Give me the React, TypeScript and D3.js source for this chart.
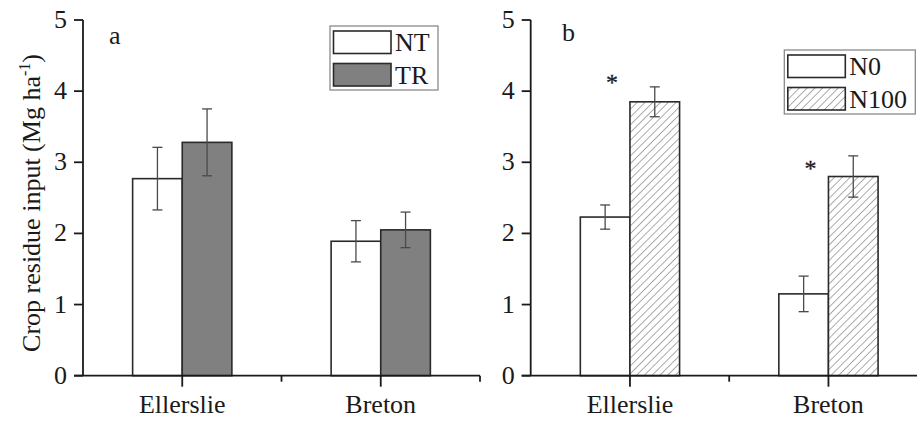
import React from "react";
import * as d3 from "d3";

// Sites and treatment series
const sites = ["Ellerslie", "Breton"];
const yTicks = [0, 1, 2, 3, 4, 5];

// Panel a: tillage
const tillageSeries = ["NT", "TR"];
const ntMean = [2.77, 1.89];
const ntErr = [0.44, 0.29];
const trMean = [3.28, 2.05];
const trErr = [0.47, 0.25];

// Panel b: nitrogen
const nSeries = ["N0", "N100"];
const n0Mean = [2.23, 1.15];
const n0Err = [0.17, 0.25];
const n100Mean = [3.85, 2.8];
const n100Err = [0.21, 0.29];
const sigLevel = [4.19, 2.97];

const W = 917;
const H = 421;
const FONT = "'Liberation Serif', 'Times New Roman', serif";
const INK = "#1a1a1a";

type PanelProps = {
  x0: number;
  x1: number;
  label: string;
  labelX: number;
  labelY: number;
  series: string[];
  means: number[][];
  errs: number[][];
  fills: string[];
  legend: { x: number; y: number; w: number; h: number };
  sig?: number[];
};

const yScale = d3.scaleLinear().domain([0, 5]).range([375.7, 20]);

function Panel(p: PanelProps) {
  const xBand = d3
    .scaleBand<string>()
    .domain(sites)
    .range([p.x0, p.x1])
    .paddingInner(0.5)
    .paddingOuter(0.25);
  const sub = d3
    .scaleBand<string>()
    .domain(p.series)
    .range([0, xBand.bandwidth()])
    .padding(0);
  const step = xBand.step();
  const y0 = yScale(0);
  const centers = sites.map((s) => xBand(s)! + xBand.bandwidth() / 2);
  const bounds = [centers[0] + step / 2, centers[1] + step / 2];

  return (
    <g>
      {/* bars */}
      {p.series.map((ser, si) =>
        sites.map((site, ci) => {
          const v = p.means[si][ci];
          const x = xBand(site)! + sub(ser)!;
          return (
            <rect
              key={ser + site}
              x={x}
              y={yScale(v)}
              width={sub.bandwidth()}
              height={y0 - yScale(v)}
              fill={p.fills[si]}
              stroke="#2a2a2a"
              strokeWidth={1.6}
            />
          );
        })
      )}
      {/* error bars */}
      {p.series.map((ser, si) =>
        sites.map((site, ci) => {
          const v = p.means[si][ci];
          const e = p.errs[si][ci];
          const cx = xBand(site)! + sub(ser)! + sub.bandwidth() / 2;
          const yt = yScale(v + e);
          const yb = yScale(v - e);
          return (
            <g key={"e" + ser + site} stroke="#4a4a4a" strokeWidth={1.3}>
              <line x1={cx} x2={cx} y1={yt} y2={yb} />
              <line x1={cx - 5} x2={cx + 5} y1={yt} y2={yt} />
              <line x1={cx - 5} x2={cx + 5} y1={yb} y2={yb} />
            </g>
          );
        })
      )}
      {/* significance marks */}
      {p.sig &&
        p.sig.map((v, ci) => (
          <text
            key={"s" + ci}
            x={centers[ci] - 18}
            y={yScale(v) + 12}
            fontSize={24}
            fontFamily={FONT}
            textAnchor="middle"
            fill={INK}
            stroke={INK}
            strokeWidth={0.3}
          >
            *
          </text>
        ))}
      {/* y axis */}
      <line x1={p.x0} x2={p.x0} y1={yScale(0)} y2={yScale(5)} stroke={INK} strokeWidth={1.8} />
      {yTicks.map((t) => (
        <g key={"y" + t}>
          <line x1={p.x0 - 9} x2={p.x0} y1={yScale(t)} y2={yScale(t)} stroke={INK} strokeWidth={1.8} />
          <text
            x={p.x0 - 16}
            y={yScale(t) + 8}
            fontSize={26}
            fontFamily={FONT}
            textAnchor="end"
            fill={INK}
          >
            {t}
          </text>
        </g>
      ))}
      {/* x axis */}
      <line x1={p.x0 - 9} x2={p.x1} y1={y0} y2={y0} stroke={INK} strokeWidth={1.8} />
      {centers.map((c, i) => (
        <g key={"x" + i}>
          <line x1={c} x2={c} y1={y0} y2={y0 + 11} stroke={INK} strokeWidth={1.8} />
          <text x={c} y={413} fontSize={26} fontFamily={FONT} textAnchor="middle" fill={INK}>
            {sites[i]}
          </text>
        </g>
      ))}
      {bounds.map((b, i) => (
        <line key={"b" + i} x1={b} x2={b} y1={y0} y2={y0 + 6} stroke={INK} strokeWidth={1.8} />
      ))}
      {/* panel label */}
      <text x={p.labelX} y={p.labelY} fontSize={26} fontFamily={FONT} fill={INK}>
        {p.label}
      </text>
      {/* legend */}
      <rect x={p.legend.x} y={p.legend.y} width={p.legend.w} height={p.legend.h} fill="#fff" stroke="#8a8a8a" strokeWidth={1.3} />
      {p.series.map((ser, si) => (
        <g key={"l" + ser}>
          <rect
            x={p.legend.x + 3.5}
            y={p.legend.y + 5 + si * 32.5}
            width={57.5}
            height={22.5}
            fill={p.fills[si]}
            stroke="#2a2a2a"
            strokeWidth={1.6}
          />
          <text
            x={p.legend.x + 65}
            y={p.legend.y + 25 + si * 32.5}
            fontSize={26}
            fontFamily={FONT}
            fill={INK}
          >
            {ser}
          </text>
        </g>
      ))}
    </g>
  );
}

export default function App() {
  return (
    <svg
      width={W}
      height={H}
      style={{ position: "absolute", left: 0, top: 0, background: "#fff" }}
    >
      <defs>
        <pattern id="hatch" patternUnits="userSpaceOnUse" width={5.5} height={5.5} patternTransform="rotate(45)">
          <rect width={5.5} height={5.5} fill="#fff" />
          <line x1={0} y1={0} x2={0} y2={5.5} stroke="#666" strokeWidth={1.1} />
        </pattern>
      </defs>
      <rect width={W} height={H} fill="#fff" />
      <text
        transform="translate(40,203) rotate(-90)"
        fontSize={26}
        fontFamily={FONT}
        textAnchor="middle"
        fill={INK}
      >
        Crop residue input (Mg ha
        <tspan dy={-10} fontSize={16}>-1</tspan>
        <tspan dy={10}>)</tspan>
      </text>
      <Panel
        x0={83}
        x1={480}
        label="a"
        labelX={109}
        labelY={44}
        series={tillageSeries}
        means={[ntMean, trMean]}
        errs={[ntErr, trErr]}
        fills={["#fff", "#808080"]}
        legend={{ x: 330, y: 26, w: 108, h: 64 }}
      />
      <Panel
        x0={530.7}
        x1={927.7}
        label="b"
        labelX={562}
        labelY={41}
        series={nSeries}
        means={[n0Mean, n100Mean]}
        errs={[n0Err, n100Err]}
        fills={["#fff", "url(#hatch)"]}
        legend={{ x: 784.3, y: 50, w: 131, h: 64 }}
        sig={sigLevel}
      />
    </svg>
  );
}
